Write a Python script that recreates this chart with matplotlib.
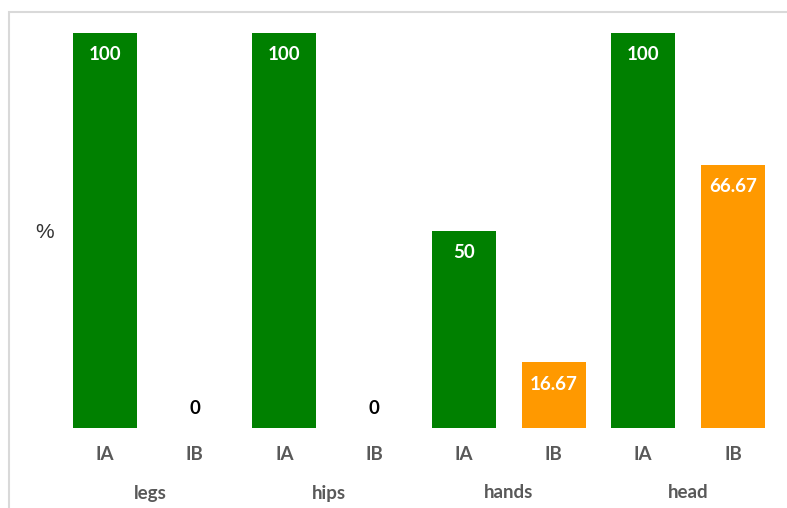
import matplotlib
matplotlib.use("Agg")
import matplotlib.pyplot as plt
from matplotlib.patches import Rectangle
import matplotlib.transforms as mtransforms

categories = ["legs", "hips", "hands", "head"]
series = ["IA", "IB"]
ia_values = [100, 100, 50, 100]
ib_values = [0, 0, 16.67, 66.67]
value_labels_ia = ["100", "100", "50", "100"]
value_labels_ib = ["0", "0", "16.67", "66.67"]
colors = {"IA": "#008000", "IB": "#FF9900"}

W, H = 787, 508
DPI = 100
plt.rcParams['font.family'] = ['Lato', 'DejaVu Sans']
fig = plt.figure(figsize=(W / DPI, H / DPI), dpi=DPI)

# border (partially cropped like the reference)
fig.patches.append(Rectangle((9 / W, -0.1), 1.2, 1 - 12 / H + 0.1, transform=fig.transFigure,
                             fill=False, edgecolor="#D9D9D9", linewidth=1.5))

left, right, bottom, top = 60.2, 777.8, 428, 33
ax = fig.add_axes([left / W, 1 - bottom / H, (right - left) / W, (bottom - top) / H])
ax.set_xlim(-0.5, 7.5)
ax.set_ylim(0, 100)
ax.axis("off")

xs_ia = [2 * i for i in range(len(categories))]
xs_ib = [2 * i + 1 for i in range(len(categories))]
bw = 64 / 89.7
ax.bar(xs_ia, ia_values, width=bw, color=colors["IA"])
ax.bar(xs_ib, ib_values, width=bw, color=colors["IB"])

fs = 13.5
for xs, vals, labs in [(xs_ia, ia_values, value_labels_ia), (xs_ib, ib_values, value_labels_ib)]:
    for x, v, lab in zip(xs, vals, labs):
        if v > 0:
            ax.annotate(lab, (x, v), xytext=(0, -22 * 0.72), textcoords="offset points",
                        ha="center", va="center", color="white", fontweight="bold", fontsize=fs)
        else:
            ax.annotate(lab, (x, v), xytext=(0, 20 * 0.72), textcoords="offset points",
                        ha="center", va="center", color="black", fontweight="bold", fontsize=fs)

trans = mtransforms.blended_transform_factory(ax.transData, fig.transFigure)
for i, cat in enumerate(categories):
    for j, s in enumerate(series):
        ax.text(2 * i + j, 1 - 454 / H, s, transform=trans, ha="center", va="center",
                color="#595959", fontweight="bold", fontsize=fs)
    ax.text(2 * i + 0.5, 1 - 493 / H, cat, transform=trans, ha="center", va="center",
            color="#595959", fontweight="bold", fontsize=fs)

fig.text(45 / W, 1 - 232 / H, "%", ha="center", va="center", color="#333333",
         fontsize=15, family=["Liberation Sans", "DejaVu Sans"])

fig.savefig("out.png", dpi=DPI)
